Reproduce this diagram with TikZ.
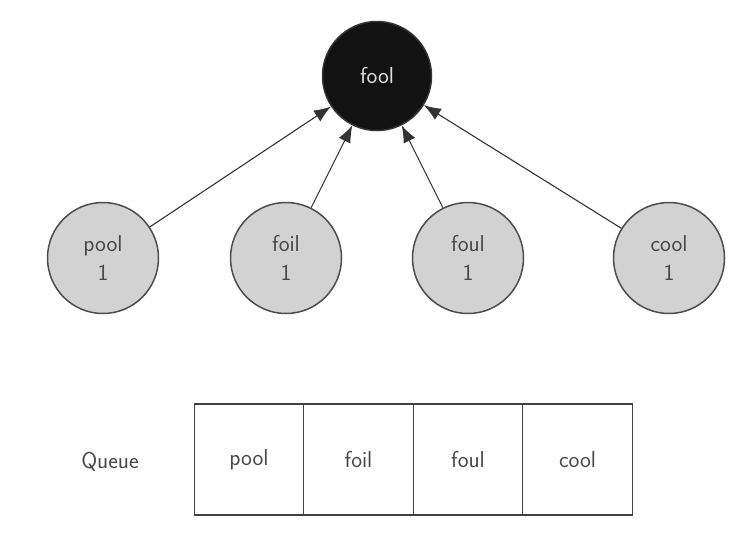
\documentclass[tikz,border=0pt]{standalone}
\usetikzlibrary{arrows.meta}
\begin{document}
\begin{tikzpicture}[x=1pt,y=-1pt,
  every node/.style={font=\sffamily\fontsize{23}{29}\selectfont},
  word/.style={circle,draw=black!70,line width=1.5pt,fill=gray!35!white,minimum size=111pt,inner sep=0pt,align=center,text=black!72},
  root/.style={circle,draw=black!80,line width=1.5pt,fill=black!93,minimum size=109pt,inner sep=0pt,text=black!12},
  cell/.style={rectangle,draw=black!75,line width=1.3pt,minimum width=109.5pt,minimum height=111pt,inner sep=0pt,outer sep=0pt,text=black!72},
  link/.style={draw=black!80,line width=1.1pt,-{Latex[length=17pt,width=13pt]}}]
\useasboundingbox (0,0) rectangle (746,544);
\node[root] (fool) at (377,76) {fool};
\node[word] (pool) at (103,258) {pool\\1};
\node[word] (foil) at (286,258) {foil\\1};
\node[word] (foul) at (468,258) {foul\\1};
\node[word] (cool) at (669,258) {cool\\1};
\draw[link] (pool) -- (fool);
\draw[link] (foil) -- (fool);
\draw[link] (foul) -- (fool);
\draw[link] (cool) -- (fool);
\node[cell] (q1) at (249,459.5) {pool};
\node[cell,anchor=west] (q2) at (q1.east) {foil};
\node[cell,anchor=west] (q3) at (q2.east) {foul};
\node[cell,anchor=west] (q4) at (q3.east) {cool};
\node[text=black!72] (qlabel) at (110,462) {Queue};
\end{tikzpicture}
\end{document}
